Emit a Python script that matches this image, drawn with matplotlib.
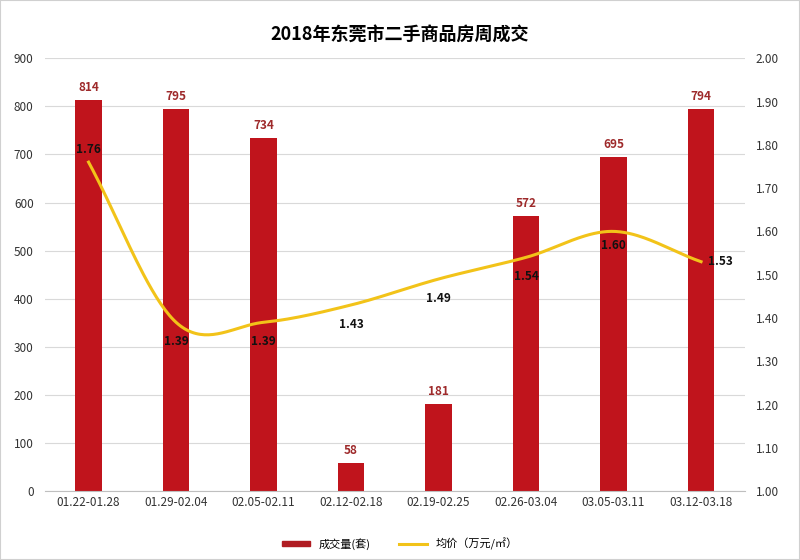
import numpy as np
import matplotlib
matplotlib.use("Agg")
import matplotlib.pyplot as plt
from matplotlib.lines import Line2D
from matplotlib.patches import Patch

plt.rcParams['font.family'] = ['Noto Sans CJK SC', 'DejaVu Sans']

categories = ["01.22-01.28", "01.29-02.04", "02.05-02.11", "02.12-02.18",
              "02.19-02.25", "02.26-03.04", "03.05-03.11", "03.12-03.18"]
volume = [814, 795, 734, 58, 181, 572, 695, 794]
price = [1.76, 1.39, 1.39, 1.43, 1.49, 1.54, 1.60, 1.53]
bar_label = "成交量(套)"
line_label = "均价（万元/㎡）"
title = "2018年东莞市二手商品房周成交"

bar_color = "#c0141c"
line_color = "#f2c319"

def catmull_rom(xs, ys, n=40):
    xs = np.asarray(xs, float); ys = np.asarray(ys, float)
    px = np.concatenate([[2*xs[0]-xs[1]], xs, [2*xs[-1]-xs[-2]]])
    py = np.concatenate([[2*ys[0]-ys[1]], ys, [2*ys[-1]-ys[-2]]])
    ox, oy = [], []
    for i in range(1, len(px)-2):
        t = np.linspace(0, 1, n, endpoint=False)
        for P, out in ((px, ox), (py, oy)):
            p0, p1, p2, p3 = P[i-1], P[i], P[i+1], P[i+2]
            out.extend(0.5*((2*p1) + (-p0+p2)*t + (2*p0-5*p1+4*p2-p3)*t**2 + (-p0+3*p1-3*p2+p3)*t**3))
    ox.append(xs[-1]); oy.append(ys[-1])
    return np.array(ox), np.array(oy)

fig = plt.figure(figsize=(8, 5.6), dpi=100)
ax = fig.add_axes([0.056, 0.123, 0.875, 0.773])
ax2 = ax.twinx()

x = np.arange(len(categories))
ax.bar(x, volume, width=0.3, color=bar_color, zorder=2)
ax.set_ylim(0, 900)
ax.set_yticks(range(0, 901, 100))
ax.set_xlim(-0.5, len(categories)-0.5)
ax.set_xticks(x)
ax.set_xticklabels(categories, fontsize=8.5, color="#333333")
ax.grid(axis='y', color="#d9d9d9", linewidth=0.8, zorder=0)
ax.set_axisbelow(True)
for s in ["top", "left", "right"]:
    ax.spines[s].set_visible(False)
ax.spines["bottom"].set_color("#bfbfbf")
ax.tick_params(axis='both', length=0, labelsize=8.5, colors="#333333")
ax.tick_params(axis='y', pad=8)
for xi, v in zip(x, volume):
    ax.text(xi, v + 12, str(v), ha='center', va='bottom', fontsize=8.5,
            fontweight='bold', color="#9e2a2b")

sx, sy = catmull_rom(x, price)
ax2.plot(sx, sy, color=line_color, linewidth=2.2, zorder=3)
ax2.set_ylim(1.0, 2.0)
ax2.set_yticks(np.arange(1.0, 2.01, 0.1))
ax2.set_yticklabels([f"{v:.2f}" for v in np.arange(1.0, 2.01, 0.1)])
for s in ["top", "left", "right", "bottom"]:
    ax2.spines[s].set_visible(False)
ax2.tick_params(axis='y', length=0, labelsize=8.5, colors="#333333", pad=8)
offsets = [(0, 9), (0, -14), (0, -14), (0, -14), (0, -14), (0, -14), (0, -10), (14, 0)]
for xi, p, (dx, dy) in zip(x, price, offsets):
    ax2.annotate(f"{p:.2f}", (xi, p), xytext=(dx, dy), textcoords='offset points',
                 ha='center', va='center', fontsize=8.5, fontweight='bold', color="#111111")

fig.suptitle(title, y=0.955, fontsize=13, fontweight='bold')
handles = [Patch(color="#b01c22"), Line2D([0], [0], color=line_color, linewidth=2.2)]
fig.legend(handles, [bar_label, line_label], loc='lower center', ncol=2,
           frameon=False, fontsize=8, bbox_to_anchor=(0.5, 0.0), handlelength=2.5,
           handleheight=0.4, columnspacing=2.5)
fig.patches.append(plt.Rectangle((0, 0), 1, 1, transform=fig.transFigure,
                                 fill=False, edgecolor="#d0d0d0", linewidth=1.5))
fig.savefig("out.png", dpi=100)
